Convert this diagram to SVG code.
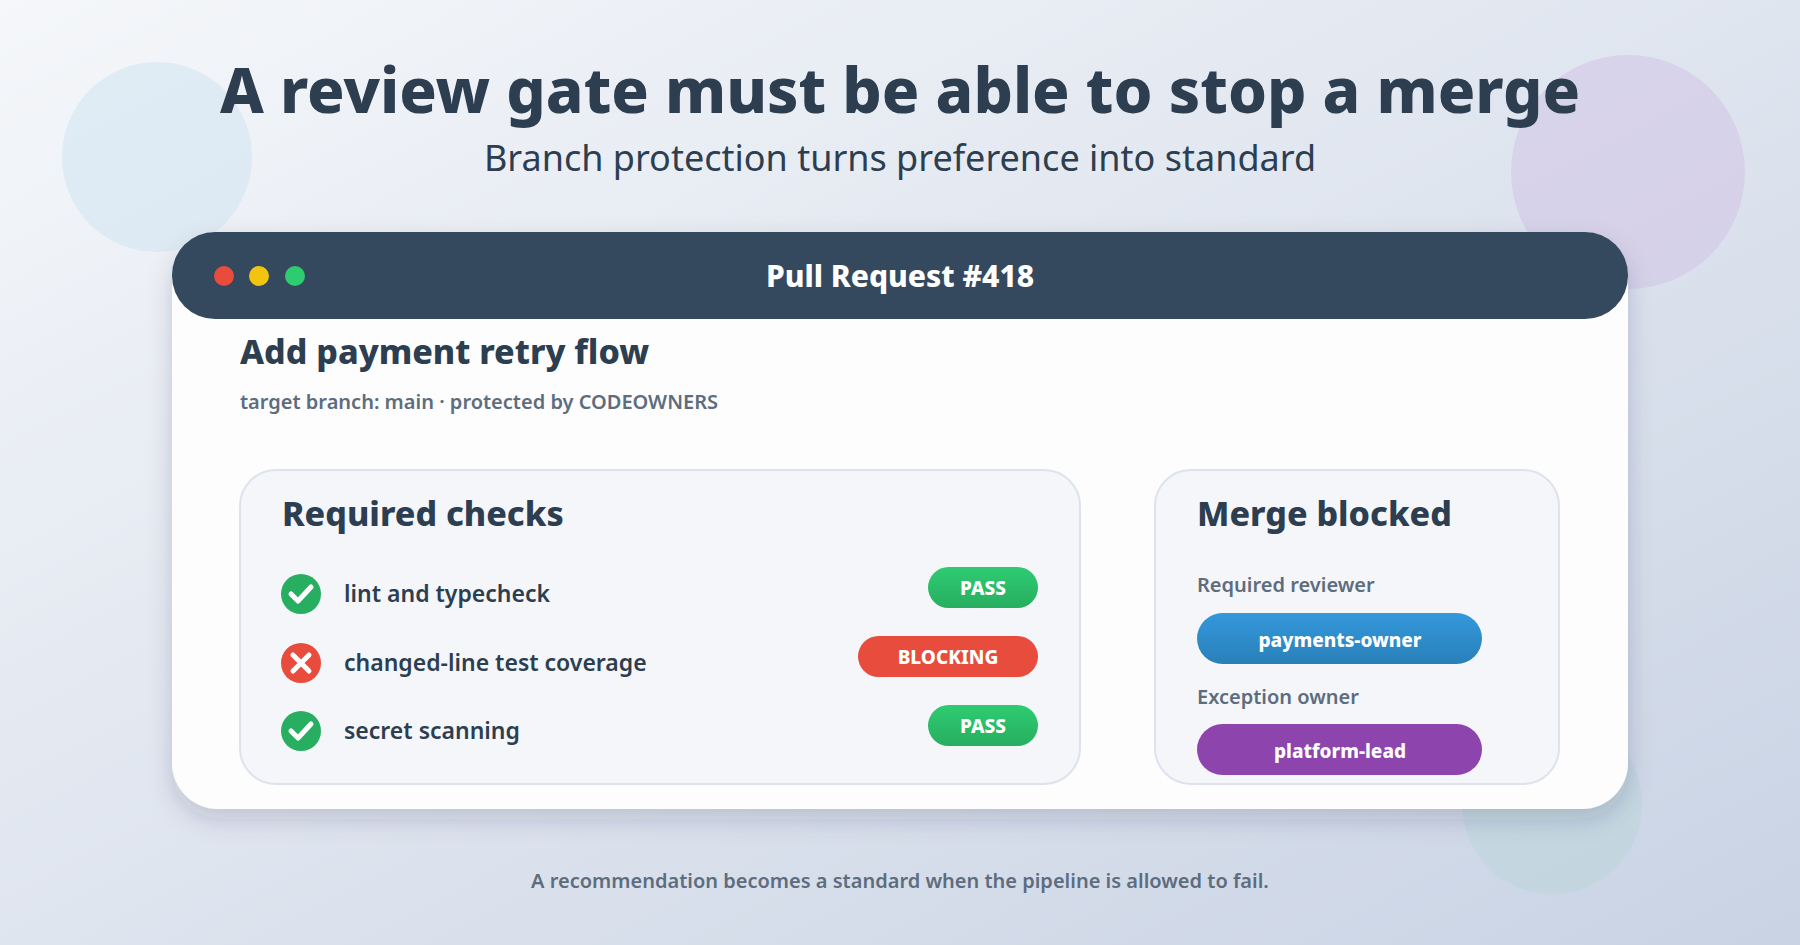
<svg xmlns="http://www.w3.org/2000/svg" width="1800" height="945" viewBox="0 0 1800 945">
<defs>
<linearGradient id="bg" x1="0" y1="0" x2="1" y2="1"><stop offset="0" stop-color="#f5f7fa"/><stop offset="1" stop-color="#c9d3e4"/></linearGradient>
<linearGradient id="gp" x1="0" y1="0" x2="0" y2="1"><stop offset="0" stop-color="#2ecc71"/><stop offset="1" stop-color="#27ae60"/></linearGradient>
<linearGradient id="bp" x1="0" y1="0" x2="0" y2="1"><stop offset="0" stop-color="#3498db"/><stop offset="1" stop-color="#2980b9"/></linearGradient>
<filter id="sh" x="-10%" y="-10%" width="120%" height="130%"><feDropShadow dx="0" dy="10" stdDeviation="12" flood-color="#1e2d4a" flood-opacity="0.18"/></filter>
</defs>
<style>
text{font-family:"Noto Sans","Open Sans","Liberation Sans",sans-serif;fill:#2c3e50}
.b{font-weight:700}
.pill{font-weight:800;fill:#fff;font-size:19px;text-anchor:middle}
.row{font-size:23px;font-weight:600;fill:#2c3e50}
.lab{font-size:20px;font-weight:600;fill:#5d6d7e}
.panel{fill:#f5f6fa;stroke:#dde2ec;stroke-width:2}
</style>
<rect width="1800" height="945" fill="url(#bg)"/>
<circle cx="157" cy="157" r="95" fill="#d4e6f1" opacity="0.6"/>
<circle cx="1628" cy="172" r="117" fill="#d2c6e6" opacity="0.6"/>
<circle cx="1552" cy="804" r="90" fill="#b9d5da" opacity="0.5"/>
<text x="900" y="113" text-anchor="middle" font-weight="800" font-size="62">A review gate must be able to stop a merge</text>
<text x="900" y="171" text-anchor="middle" font-size="36" fill="#34495e">Branch protection turns preference into standard</text>
<g id="card">
<rect x="172" y="232" width="1456" height="577" rx="46" fill="#fdfdfe" filter="url(#sh)"/>
<rect x="172" y="232" width="1456" height="87" rx="43" fill="#34495e"/>
<circle cx="224" cy="276" r="10" fill="#e74c3c"/><circle cx="259" cy="276" r="10" fill="#f1c40f"/><circle cx="295" cy="276" r="10" fill="#2ecc71"/>
<text x="900" y="287" text-anchor="middle" font-weight="800" font-size="30" style="fill:#fff">Pull Request #418</text>
<text x="240" y="364" font-weight="800" font-size="34">Add payment retry flow</text>
<text x="240" y="409" class="lab" font-size="19">target branch: main · protected by CODEOWNERS</text>
</g>
<g id="checks">
<rect class="panel" x="240" y="470" width="840" height="314" rx="36"/>
<text x="282" y="526" font-weight="800" font-size="34">Required checks</text>
<circle cx="301" cy="594" r="20" fill="#27ae60"/><path d="M291 594l7 7 13-14" stroke="#fff" stroke-width="5" fill="none" stroke-linecap="round" stroke-linejoin="round"/>
<text x="344" y="602" class="row">lint and typecheck</text>
<rect x="928" y="567" width="110" height="41" rx="20.5" fill="url(#gp)"/><text x="983" y="595" class="pill">PASS</text>
<circle cx="301" cy="663" r="20" fill="#e74c3c"/><path d="M293 655l16 16M309 655l-16 16" stroke="#fff" stroke-width="5" stroke-linecap="round"/>
<text x="344" y="671" class="row">changed-line test coverage</text>
<rect x="858" y="636" width="180" height="41" rx="20.5" fill="#e74c3c"/><text x="948" y="664" class="pill">BLOCKING</text>
<circle cx="301" cy="731" r="20" fill="#27ae60"/><path d="M291 731l7 7 13-14" stroke="#fff" stroke-width="5" fill="none" stroke-linecap="round" stroke-linejoin="round"/>
<text x="344" y="739" class="row">secret scanning</text>
<rect x="928" y="705" width="110" height="41" rx="20.5" fill="url(#gp)"/><text x="983" y="733" class="pill">PASS</text>
</g>
<g id="merge">
<rect class="panel" x="1155" y="470" width="404" height="314" rx="36"/>
<text x="1197" y="526" font-weight="800" font-size="34">Merge blocked</text>
<text x="1197" y="592" class="lab">Required reviewer</text>
<rect x="1197" y="613" width="285" height="51" rx="25.5" fill="url(#bp)"/><text x="1340" y="647" class="pill">payments-owner</text>
<text x="1197" y="704" class="lab">Exception owner</text>
<rect x="1197" y="724" width="285" height="51" rx="25.5" fill="#8e44ad"/><text x="1340" y="758" class="pill">platform-lead</text>
</g>
<g id="connectors"/>
<text x="900" y="888" text-anchor="middle" class="lab">A recommendation becomes a standard when the pipeline is allowed to fail.</text>
</svg>
